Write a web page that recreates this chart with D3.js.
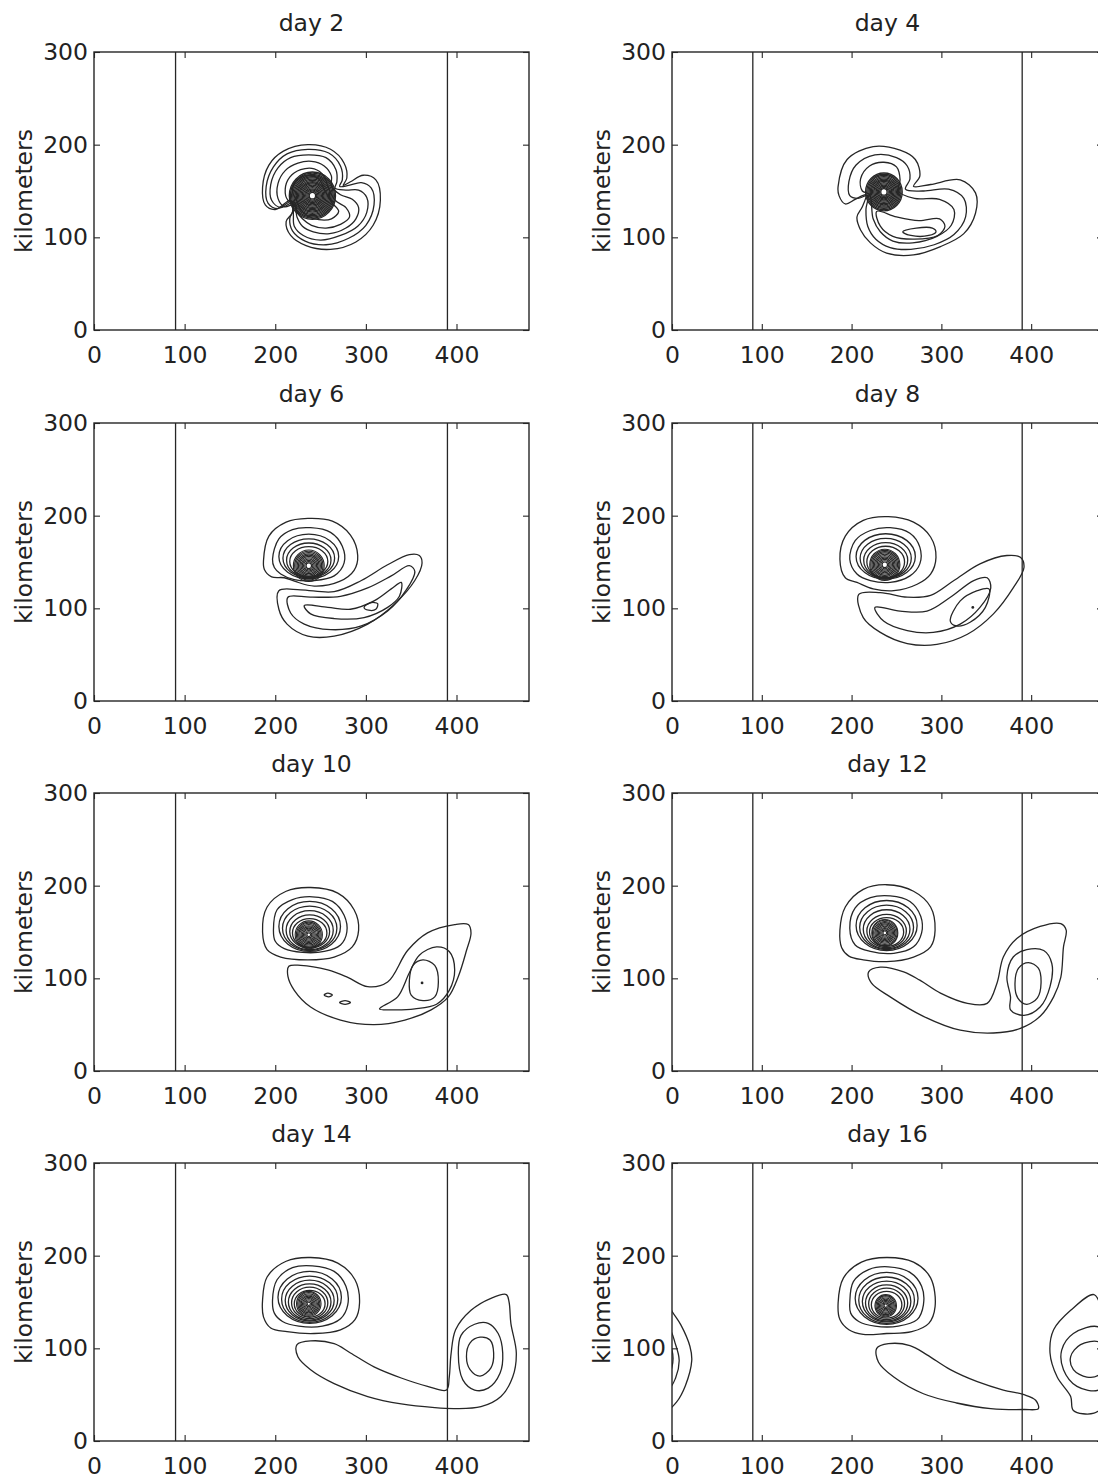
<!DOCTYPE html>
<html>
<head>
<meta charset="utf-8">
<script src="https://cdn.jsdelivr.net/npm/d3@7/dist/d3.min.js"></script>
<style>
  body { margin: 0; background: #fff; }
  text { font-family: "DejaVu Sans", "Liberation Sans", Arial, sans-serif; fill: #222; }
</style>
</head>
<body>
<svg id="fig"></svg>
<script>
// titles and axis ticks
const dayTitles = ["day 2", "day 4", "day 6", "day 8", "day 10", "day 12", "day 14", "day 16"];
const xTicks = [0, 100, 200, 300, 400];
const yTicks = [0, 100, 200, 300];
const xDomain = [0, 480];
const yDomain = [0, 300];
const barrierX = [90, 390];   // the two vertical lines (km)

// contours, all in km: closed loops [[x,y],...], rings [cx,cy,rx,ry], dense core radii
const day2Core = [241, 145];
const day2Dense = [3.5, 4.8, 6.1, 7.4, 8.7, 10, 11.3, 12.6, 13.9, 15.2, 16.5, 17.8, 19.1, 20.4, 21.7, 23, 24.3, 25.5];
const day2Loops = [
  [[217,140],[200,130],[189,135],[186,154],[193,178],[209,193],[236,200],[261,195],[276,180],[279,164],[275,156],[283,160],[297,167],[311,162],[316,140],[308,113],[289,95],[261,87],[234,91],[217,102],[212,117],[219,127]],
  [[218,139],[203,131],[192,137],[190,155],[198,176],[213,190],[236,195],[259,191],[272,177],[274,162],[271,155],[281,156],[295,159],[306,153],[309,135],[300,113],[281,99],[256,92],[233,96],[219,107],[216,120],[220,130]],
  [[219,137],[206,132],[196,140],[195,157],[203,175],[217,186],[237,189],[256,186],[267,173],[268,160],[266,153],[278,151],[292,151],[301,143],[301,127],[291,112],[272,102],[250,97],[231,102],[221,112],[220,125]],
  [[221,135],[210,133],[203,142],[203,158],[211,172],[225,180],[240,182],[254,177],[262,166],[262,155],[272,146],[285,141],[292,132],[289,120],[278,110],[260,104],[242,106],[230,112],[224,122]],
  [[222,137],[214,140],[211,152],[216,165],[228,173],[243,174],[254,166],[258,155],[266,140],[278,132],[282,122],[272,114],[256,110],[240,113],[230,120],[224,128]],
  [[224,139],[219,150],[224,162],[236,167],[248,163],[254,152],[262,138],[270,128],[262,120],[248,119],[236,123],[228,130]]
];

const day4Core = [236, 149];
const day4Dense = [3.5, 4.8, 6.1, 7.4, 8.7, 10, 11.3, 12.6, 13.9, 15.2, 16.5, 17.8, 19.1, 20.4];
const day4Loops = [
  [[216,146],[204,141],[193,136],[186,145],[185,155],[195,184],[224,198],[254,194],[271,184],[276,166],[269,155],[288,157],[321,162],[338,148],[338,126],[325,104],[299,90],[269,81],[239,83],[221,94],[210,108],[206,122],[212,133]],
  [[218,145],[207,142],[198,145],[197,160],[205,178],[226,189],[250,186],[262,177],[265,163],[260,152],[280,150],[308,152],[325,142],[327,122],[314,103],[292,92],[266,87],[243,89],[227,98],[218,112],[216,130]],
  [[220,146],[212,150],[210,163],[220,177],[236,181],[250,176],[254,162],[252,150],[270,142],[298,141],[314,130],[311,113],[295,101],[268,94],[246,96],[232,106],[224,120]],
  [[228,128],[250,122],[275,118],[298,120],[304,112],[296,102],[270,98],[246,101],[232,112]],
  [[257,106],[272,110],[290,110],[294,106],[286,102],[266,102]]
];

const day6Core = [237, 146];
const day6Dense = [3, 4.4, 5.8, 7.2, 8.6, 10, 11.4, 12.8, 14.2, 15.6, 17];
const day6Rings = [[237,156,33,24],[237,154,28.5,21],[237,152,24.5,18.5],[237,150.5,21,16]];
const day6Loops = [
  [[187,151],[193,178],[212,193],[236,197],[263,194],[283,179],[291,157],[287,141],[271,129],[243,124],[222,129],[210,133],[196,134],[188,142]],
  [[197,153],[204,175],[219,185],[239,187],[261,182],[274,167],[276,149],[265,135],[243,130],[221,131],[206,137],[199,144]],
  [[204,119],[228,120],[265,118],[295,130],[324,147],[348,158],[359,157],[362,149],[354,130],[331,104],[302,83],[265,70],[236,70],[213,83],[204,99]],
  [[214,112],[239,112],[272,113],[302,122],[328,135],[348,146],[354,140],[344,119],[324,97],[295,81],[261,77],[232,83],[217,95]],
  [[232,103],[258,101],[283,99],[309,108],[328,121],[339,128],[337,113],[324,101],[298,90],[265,89],[239,94]],
  [[298,101],[305,106],[313,105],[311,99],[303,98]]
];

const day8Core = [237, 147];
const day8Dense = [3, 4.4, 5.8, 7.2, 8.6, 10, 11.4, 12.8, 14.2, 15.6, 16.8];
const day8Rings = [[238,156,33,24.5],[238,154,28.5,21.5],[238,152,24.5,19],[238,150,21,17]];
const day8Loops = [
  [[187,153],[193,178],[213,195],[241,199],[269,193],[288,177],[294,155],[288,137],[273,126],[247,119],[224,121],[206,128],[193,133]],
  [[198,153],[204,173],[221,184],[243,187],[265,181],[276,166],[276,148],[265,135],[243,128],[221,130],[206,137]],
  [[208,115],[232,117],[262,112],[288,114],[314,130],[343,148],[373,157],[388,155],[392,144],[380,122],[358,94],[329,72],[295,61],[262,62],[232,74],[213,90]],
  [[226,101],[254,97],[284,97],[310,112],[336,130],[351,133],[355,122],[343,101],[321,83],[291,74],[262,76],[236,86]],
  [[310,86],[321,108],[340,119],[353,121],[349,101],[332,85],[317,81]]
];
const day8Dots = [[335,101]];

const day10Core = [237, 147];
const day10Dense = [2, 3.3, 4.6, 5.9, 7.2, 8.5, 9.8, 11.1, 12.4, 13.7, 15];
const day10Rings = [[238,156,34,27],[238,154,30,24],[238,152,26,21],[238,150.5,22,18],[238,149,19,15.5]];
const day10Loops = [
  [[186,150],[191,177],[212,194],[239,198],[269,192],[287,174],[292,152],[285,134],[265,123],[236,120],[206,123],[191,131]],
  [[198,152],[202,174],[219,185],[241,188],[263,183],[276,168],[279,150],[272,136],[254,129],[230,128],[210,132],[200,140]],
  [[215,113],[228,114],[258,109],[280,101],[302,91],[324,96],[346,130],[368,149],[398,158],[413,158],[416,149],[411,130],[402,102],[391,80],[372,66],[343,55],[309,50],[272,55],[239,69],[221,87],[214,102]],
  [[315,67],[335,80],[348,106],[359,125],[378,134],[392,129],[398,109],[392,87],[378,72],[354,67],[330,66]],
  [[348,98],[352,114],[363,120],[376,114],[380,96],[376,80],[363,76],[350,82]],
  [[254,82],[258,84],[263,82],[259,80]],
  [[271,74],[277,76],[283,74],[277,72]]
];
const day10Dots = [[362,95]];

const day12Core = [237, 149];
const day12Dense = [2, 3.3, 4.6, 5.9, 7.2, 8.5, 9.8, 11.1, 12.4, 13.7, 14.5];
const day12Rings = [[239,157,34,27],[239,155,30,24],[239,153,26,21],[239,151,22,18],[239,150,19,15.5]];
const day12Loops = [
  [[187,152],[193,177],[213,196],[239,201],[269,194],[288,177],[293,152],[288,134],[269,123],[239,118],[213,120],[197,124],[189,133]],
  [[198,154],[204,176],[221,187],[243,189],[265,183],[277,167],[278,149],[269,134],[247,127],[221,129],[204,136]],
  [[219,107],[232,112],[258,107],[276,98],[299,84],[329,73],[351,73],[362,95],[369,123],[384,143],[410,156],[433,159],[439,152],[436,134],[433,101],[425,80],[410,59],[388,46],[358,41],[321,44],[280,59],[243,80],[222,95]],
  [[377,80],[373,102],[380,123],[395,131],[414,130],[423,116],[421,91],[410,69],[392,60],[377,66]],
  [[382,95],[386,111],[397,117],[408,111],[411,95],[407,79],[395,72],[385,79]]
];

const day14Core = [237, 148];
const day14Dense = [1.8, 3.1, 4.4, 5.7, 7, 8.3, 9.6, 10.9, 12.2, 13.5];
const day14Rings = [[238,155,35,28],[238,153,31,25],[238,151.5,27,22],[238,150,23.5,19.5],[238,149,20,17],[238,148,17,14.5]];
const day14Loops = [
  [[186,152],[191,177],[212,194],[239,198],[269,192],[288,174],[293,149],[288,131],[272,120],[243,116],[213,118],[195,122],[187,134]],
  [[197,152],[202,174],[219,187],[241,189],[265,183],[278,167],[280,147],[272,132],[252,124],[226,124],[208,129],[199,138]],
  [[224,104],[239,108],[265,105],[283,95],[309,80],[339,68],[368,59],[389,55],[392,69],[394,94],[399,120],[416,141],[438,154],[455,158],[458,150],[460,127],[466,95],[462,69],[449,48],[427,37],[398,35],[376,36],[339,40],[302,48],[265,62],[239,77],[225,91]],
  [[402,95],[405,114],[420,126],[435,127],[446,116],[451,95],[448,73],[435,57],[420,55],[407,66]],
  [[411,91],[415,106],[426,112],[437,109],[441,95],[438,79],[426,70],[415,77]]
];

const day16Core = [238, 146];
const day16Dense = [1.8, 3.1, 4.4, 5.7, 7, 8.3, 9.6, 10.9, 12];
const day16Rings = [[239,154,35,28],[239,152,31,25],[239,150.5,27,22],[239,149,23.5,19.5],[239,148,20,17],[239,147,17,14.5]];
const day16Loops = [
  [[185,149],[191,176],[211,193],[239,198],[269,193],[288,176],[293,145],[286,127],[267,118],[239,116],[213,115],[197,120],[187,131]],
  [[198,150],[202,172],[219,185],[241,188],[265,182],[278,167],[280,147],[273,131],[252,124],[226,124],[208,129],[199,138]],
  [[228,100],[241,105],[265,103],[284,93],[310,77],[340,64],[369,55],[392,50],[405,44],[408,35],[392,34],[355,35],[317,41],[280,51],[247,69],[230,85]]
];
// eddy that wraps round the periodic domain: drawn at x and at x - 480
const day16Wrap = [
  [[470,158],[444,141],[425,120],[421,95],[429,69],[444,48],[447,33],[470,30],[485,42],[495,60],[502,87],[500,102],[490,125],[480,140]],
  [[475,123],[447,116],[434,98],[436,77],[451,59],[475,55],[484,68],[488,87],[484,104]],
  [[475,107],[455,104],[444,91],[447,77],[462,69],[475,71],[480,80],[480,98]]
];

// page layout
const W = 1098, H = 1479;
const colX = [94, 672];
const colW = [435, 431];
const rowY = [52, 423, 793, 1163];
const plotH = 278;
const fontSize = 23.5;

const panels = [
  { loops: day2Loops, rings: [], core: day2Core, dense: day2Dense, dots: [], wrap: [], denseW: 1.3 },
  { loops: day4Loops, rings: [], core: day4Core, dense: day4Dense, dots: [], wrap: [], denseW: 1.3 },
  { loops: day6Loops, rings: day6Rings, core: day6Core, dense: day6Dense, dots: [], wrap: [], denseW: 1.15 },
  { loops: day8Loops, rings: day8Rings, core: day8Core, dense: day8Dense, dots: day8Dots, wrap: [], denseW: 1.15 },
  { loops: day10Loops, rings: day10Rings, core: day10Core, dense: day10Dense, dots: day10Dots, wrap: [], denseW: 1.1 },
  { loops: day12Loops, rings: day12Rings, core: day12Core, dense: day12Dense, dots: [], wrap: [], denseW: 1.1 },
  { loops: day14Loops, rings: day14Rings, core: day14Core, dense: day14Dense, dots: [], wrap: [], denseW: 1.1 },
  { loops: day16Loops, rings: day16Rings, core: day16Core, dense: day16Dense, dots: [], wrap: day16Wrap, denseW: 1.1 }
];

const svg = d3.select("#fig").attr("width", W).attr("height", H);
svg.append("rect").attr("width", W).attr("height", H).attr("fill", "#fff");

const ink = "#262626";

panels.forEach((p, i) => {
  const col = i % 2, row = Math.floor(i / 2);
  const x0 = colX[col], y0 = rowY[row], w = colW[col];

  const x = d3.scaleLinear().domain(xDomain).range([0, w]);
  const y = d3.scaleLinear().domain(yDomain).range([plotH, 0]);

  const g = svg.append("g").attr("transform", `translate(${x0},${y0})`);

  g.append("clipPath").attr("id", "clip" + i)
    .append("rect").attr("width", w).attr("height", plotH);

  const plot = g.append("g").attr("clip-path", `url(#clip${i})`);

  // vertical lines
  plot.selectAll("line.barrier").data(barrierX).enter().append("line")
    .attr("class", "barrier")
    .attr("x1", d => x(d)).attr("x2", d => x(d))
    .attr("y1", 0).attr("y2", plotH)
    .attr("stroke", ink).attr("stroke-width", 1.3);

  const line = d3.line()
    .x(d => x(d[0])).y(d => y(d[1]))
    .curve(d3.curveCatmullRomClosed.alpha(0.5));

  const cont = plot.append("g")
    .attr("fill", "none").attr("stroke", ink).attr("stroke-width", 1.3)
    .attr("stroke-linejoin", "round");

  cont.selectAll("path.loop").data(p.loops).enter().append("path")
    .attr("class", "loop").attr("d", line);

  // wrapped eddy (periodic domain)
  [0, -xDomain[1]].forEach(shift => {
    cont.selectAll(null).data(p.wrap).enter().append("path")
      .attr("d", d => line(d.map(q => [q[0] + shift, q[1]])));
  });

  cont.selectAll("ellipse.ring").data(p.rings).enter().append("ellipse")
    .attr("class", "ring")
    .attr("cx", d => x(d[0])).attr("cy", d => y(d[1]))
    .attr("rx", d => x(d[2]) - x(0)).attr("ry", d => y(0) - y(d[3]));

  cont.selectAll("ellipse.dense").data(p.dense).enter().append("ellipse")
    .attr("class", "dense")
    .attr("cx", x(p.core[0])).attr("cy", y(p.core[1]))
    .attr("rx", d => x(d) - x(0)).attr("ry", d => y(0) - y(d))
    .attr("stroke-width", p.denseW);

  plot.selectAll("circle.dot").data(p.dots).enter().append("circle")
    .attr("cx", d => x(d[0])).attr("cy", d => y(d[1])).attr("r", 1.4)
    .attr("fill", ink);

  // axes: ticks inward on all four sides, labels only left and bottom
  const styleAxis = a => {
    a.select(".domain").remove();
    a.selectAll(".tick line").attr("stroke", ink).attr("stroke-width", 1.1);
    a.selectAll("text").attr("font-size", fontSize).attr("fill", "#222")
      .attr("font-family", "'DejaVu Sans', 'Liberation Sans', Arial, sans-serif");
  };

  g.append("g").attr("transform", `translate(0,${plotH})`)
    .call(d3.axisBottom(x).tickValues(xTicks).tickSize(-6).tickPadding(16))
    .call(styleAxis);
  g.append("g")
    .call(d3.axisTop(x).tickValues(xTicks).tickSize(-6).tickFormat(""))
    .call(styleAxis);
  g.append("g")
    .call(d3.axisLeft(y).tickValues(yTicks).tickSize(-6).tickPadding(6))
    .call(styleAxis);
  g.append("g").attr("transform", `translate(${w},0)`)
    .call(d3.axisRight(y).tickValues(yTicks).tickSize(-6).tickFormat(""))
    .call(styleAxis);

  // frame
  g.append("rect").attr("width", w).attr("height", plotH)
    .attr("fill", "none").attr("stroke", ink).attr("stroke-width", 1.4);

  // title and y label
  g.append("text").attr("x", w / 2).attr("y", -21)
    .attr("text-anchor", "middle").attr("font-size", fontSize)
    .text(dayTitles[i]);
  g.append("text")
    .attr("transform", `translate(-62,${plotH / 2}) rotate(-90)`)
    .attr("text-anchor", "middle").attr("font-size", fontSize)
    .text("kilometers");
});
</script>
</body>
</html>
